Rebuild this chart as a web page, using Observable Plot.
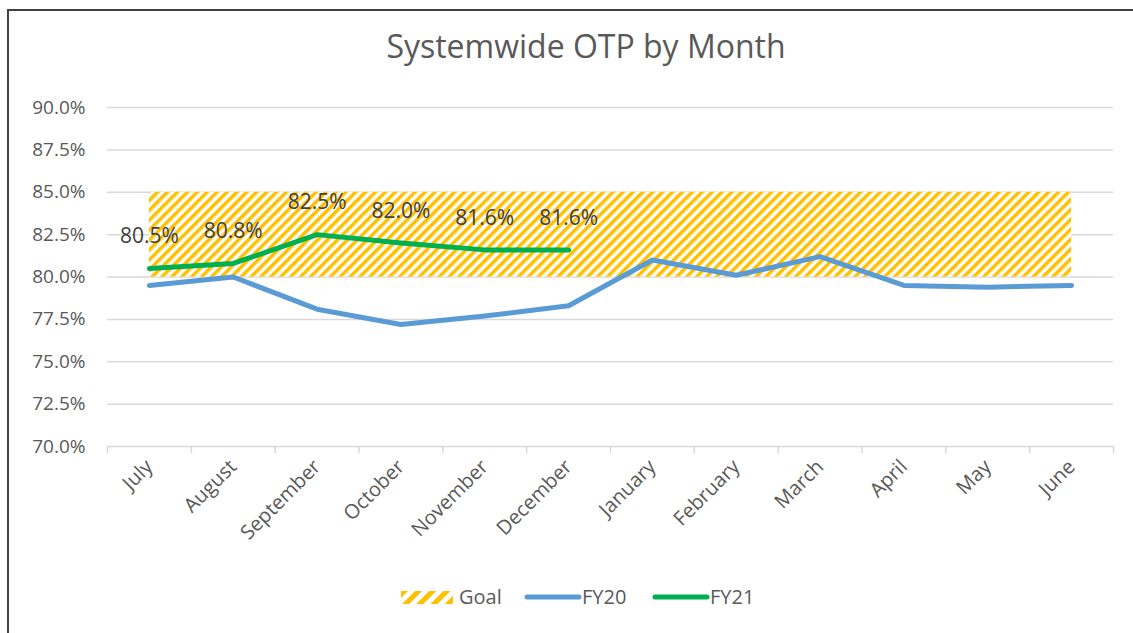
<!DOCTYPE html>
<html><head><meta charset="utf-8">
<script src="https://cdn.jsdelivr.net/npm/d3@7"></script>
<script src="https://cdn.jsdelivr.net/npm/@observablehq/plot@0.6"></script>
<style>
body{margin:0;background:#fff;font-family:"Open Sans",sans-serif;}
#page{position:relative;width:1133px;height:633px;overflow:hidden;background:#fff}
#border{position:absolute;left:7px;top:9px;width:1200px;height:700px;border-left:2px solid #404040;border-top:2px solid #404040;box-sizing:border-box}
#title{position:absolute;left:0;top:30px;width:1172px;text-align:center;font-size:32px;line-height:32px;color:#595959;white-space:nowrap}
#chart{position:absolute;left:0;top:80px}
.leg{position:absolute;top:587px;height:20px;display:flex;align-items:center;font-size:20px;color:#595959;line-height:20px}
</style>
</head><body>
<div id="page">
  <div id="border"></div>
  <div id="title">Systemwide OTP by Month</div>
  <div id="chart"></div>
  <div id="legend"></div>
</div>
<script>
const months = ["July","August","September","October","November","December","January","February","March","April","May","June"];
const fy20 = [79.5, 80.0, 78.1, 77.2, 77.7, 78.3, 81.0, 80.1, 81.2, 79.5, 79.4, 79.5];
const fy21 = [80.5, 80.8, 82.5, 82.0, 81.6, 81.6];
const goalLow  = [80, 80, 80, 80, 80, 80, 80, 80, 80, 80, 80, 80];
const goalHigh = [85, 85, 85, 85, 85, 85, 85, 85, 85, 85, 85, 85];
const yTicks = [70, 72.5, 75, 77.5, 80, 82.5, 85, 87.5, 90];
const seriesNames = ["Goal", "FY20", "FY21"];
const colors = {FY20: "#5B9BD5", FY21: "#00B050", Goal: "#FFC000"};

const idx = months.map((_, i) => i);
const boundaries = months.map((_, i) => i - 0.5).concat([months.length - 0.5]);
const goalData = months.map((m, i) => ({i, lo: goalLow[i], hi: goalHigh[i]}));
const fy20Data = fy20.map((v, i) => ({i, v}));
const fy21Data = fy21.map((v, i) => ({i, v}));

const svg = Plot.plot({
  width: 1133, height: 480,
  marginTop: 27, marginBottom: 114, marginLeft: 107, marginRight: 20,
  x: {domain: [-0.5, months.length - 0.5], label: null},
  y: {domain: [70, 90], label: null},
  style: {fontFamily: "'Open Sans', sans-serif", fontSize: "19px", color: "#595959", background: "transparent"},
  marks: [
    Plot.gridY(yTicks.filter(t => t > 70), {stroke: "#d9d9d9", strokeOpacity: 1, strokeWidth: 1.5}),
    Plot.areaY(goalData, {x: "i", y1: "lo", y2: "hi", fill: "url(#hatch)"}),
    Plot.ruleY([70], {stroke: "#d9d9d9", strokeWidth: 1.5}),
    Plot.axisX(boundaries, {tickSize: 7, tickFormat: () => "", stroke: "#d9d9d9", strokeWidth: 1.5, strokeOpacity: 1, label: null}),
    Plot.axisX(idx, {tickSize: 0, tickPadding: 17, tickRotate: -45, tickFormat: i => months[i], fill: "#595959", fontSize: 20, label: null}),
    Plot.axisY(yTicks, {tickSize: 0, tickPadding: 22, tickFormat: d => d.toFixed(1) + "%", fill: "#595959", label: null}),
    Plot.line(fy20Data, {x: "i", y: "v", stroke: colors.FY20, strokeWidth: 5, strokeLinecap: "round", strokeLinejoin: "round"}),
    Plot.line(fy21Data, {x: "i", y: "v", stroke: colors.FY21, strokeWidth: 5, strokeLinecap: "round", strokeLinejoin: "round"}),
    Plot.text(fy21Data, {x: "i", y: "v", text: d => d.v.toFixed(1) + "%", dy: -32, fill: "#404040", fontSize: 21})
  ]
});

const defs = d3.select(svg).insert("defs", ":first-child");
const pat = defs.append("pattern").attr("id", "hatch").attr("patternUnits", "userSpaceOnUse")
  .attr("width", 7).attr("height", 7).attr("patternTransform", "rotate(45)");
pat.append("rect").attr("width", 7).attr("height", 7).attr("fill", "#fff");
pat.append("rect").attr("width", 3.5).attr("height", 7).attr("fill", colors.Goal);
document.getElementById("chart").appendChild(svg);

// Legend
const legend = document.getElementById("legend");
const legItems = [
  {name: seriesNames[0], left: 401, type: "hatch"},
  {name: seriesNames[1], left: 524, type: "line"},
  {name: seriesNames[2], left: 652, type: "line"}
];
legItems.forEach(it => {
  const div = document.createElement("div");
  div.className = "leg";
  div.style.left = it.left + "px";
  let sw;
  if (it.type === "hatch") {
    sw = `<svg width="54" height="13" style="margin-right:4px"><defs><pattern id="hatchL" patternUnits="userSpaceOnUse" width="10" height="10" patternTransform="rotate(45)"><rect width="10" height="10" fill="#fff"/><rect width="5" height="10" fill="${colors.Goal}"/></pattern></defs><rect x="0" y="0" width="52" height="13" fill="url(#hatchL)"/></svg>`;
  } else {
    sw = `<svg width="58" height="12"><line x1="3" y1="6" x2="55" y2="6" stroke="${colors[it.name]}" stroke-width="5" stroke-linecap="round"/></svg>`;
  }
  div.innerHTML = sw + `<span>${it.name}</span>`;
  legend.appendChild(div);
});
</script>
</body></html>
